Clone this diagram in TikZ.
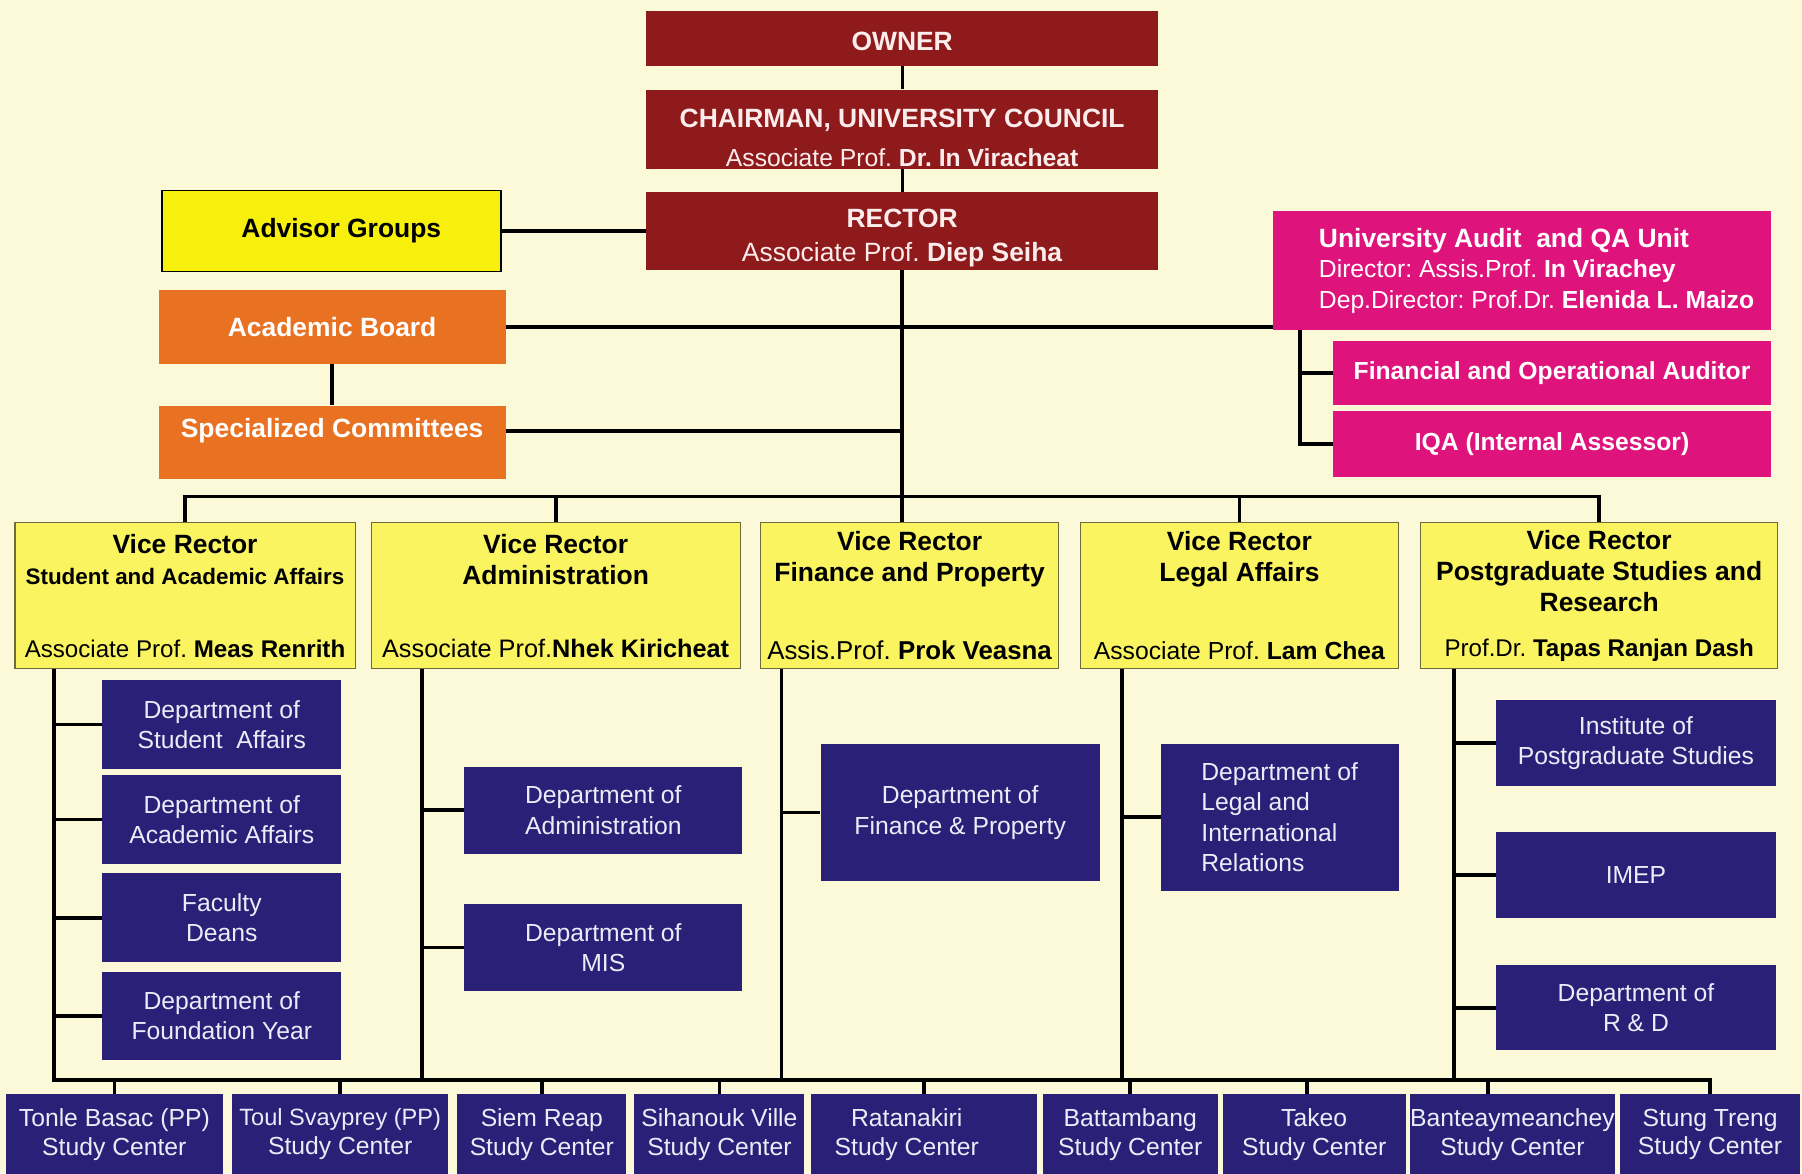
\documentclass[tikz,border=0pt]{standalone}
\usepackage{fontspec}
\setmainfont{Liberation Sans}
\usepackage{xcolor}

\definecolor{paper}{RGB}{252,249,216}
\definecolor{boardred}{RGB}{142,26,28}
\definecolor{boardtext}{RGB}{252,236,236}
\definecolor{advisoryellow}{RGB}{247,240,12}
\definecolor{viceyellow}{RGB}{249,244,96}
\definecolor{viceline}{RGB}{110,108,60}
\definecolor{boardorange}{RGB}{232,114,34}
\definecolor{auditpink}{RGB}{222,20,124}
\definecolor{deptblue}{RGB}{42,32,120}
\definecolor{depttext}{RGB}{236,236,248}

\begin{document}
\frenchspacing
\begin{tikzpicture}[x=1pt,y=-1pt,
  base/.style={inner sep=0pt,align=center},
  boardbox/.style={base,fill=boardred,text=boardtext,minimum width=446pt,font=\fontsize{23}{27}\selectfont},
  councilbox/.style={base,fill=boardorange,text=white,minimum width=302pt,minimum height=64pt,font=\bfseries\fontsize{23}{27}\selectfont},
  auditbox/.style={base,fill=auditpink,text=white,font=\fontsize{21.5}{26.5}\selectfont},
  vicebox/.style={base,fill=viceyellow,draw=viceline,line width=1pt,minimum height=127pt,text=black,font=\fontsize{23}{27}\selectfont},
  deptbox/.style={base,fill=deptblue,text=depttext,font=\fontsize{21.5}{26.5}\selectfont},
  centrebox/.style={base,fill=deptblue,text=depttext,minimum height=70pt,font=\fontsize{21.5}{25}\selectfont},
  link/.style={line width=3.2pt},
  thinlink/.style={line width=2.4pt}
]
\path[use as bounding box,clip] (0,0) rectangle (1568,1021);
\fill[paper] (0,0) rectangle (1568,1021);

\node[boardbox,minimum height=47pt] (owner) at (785,33.5) {\rule{0pt}{21pt}\textbf{OWNER}};
\node[boardbox,minimum height=69pt] (chair) at (785,112.5) {\rule{0pt}{30.5pt}\textbf{CHAIRMAN, UNIVERSITY COUNCIL}\\[7pt]{\fontsize{21.5}{27}\selectfont Associate Prof. \textbf{Dr. In Viracheat}}};
\node[boardbox,minimum height=68pt] (rector) at (785,201) {\rule{0pt}{28.5pt}\textbf{RECTOR}\\[3pt]Associate Prof. \textbf{Diep Seiha}};

\node[base,fill=advisoryellow,draw=black,line width=1.2pt,minimum width=295pt,minimum height=70pt,font=\bfseries\fontsize{23}{27}\selectfont] (advisor) at (288.5,201) {\hspace*{17pt}Advisor Groups};
\node[councilbox] (acad) at (289,284.5) {Academic Board};
\node[councilbox] (spec) at (289,385) {\raisebox{10pt}[\height][\depth]{Specialized Committees}};

\node[auditbox,align=left,minimum width=433pt,minimum height=103pt] (audit) at (1324.5,235.5) {\hspace*{25pt}{\fontsize{23}{26.5}\selectfont\textbf{University Audit\ \ and QA Unit}}\\\hspace*{25pt}Director: Assis.Prof. \textbf{In Virachey}\\\hspace*{25pt}Dep.Director: Prof.Dr. \textbf{Elenida L. Maizo}};
\node[auditbox,font=\bfseries\fontsize{21.5}{26.5}\selectfont,minimum width=381pt,minimum height=55pt] (finaud) at (1350.5,324.5) {Financial and Operational Auditor};
\node[auditbox,font=\bfseries\fontsize{21.5}{26.5}\selectfont,minimum width=381pt,minimum height=57pt] (iqa) at (1350.5,386.5) {IQA (Internal Assessor)};

\node[vicebox,minimum width=296pt] (vr1) at (161,518.5) {\textbf{Vice Rector}\\{\fontsize{19.5}{27}\selectfont\textbf{Student and Academic Affairs}}\\[37pt]{\fontsize{21}{27}\selectfont Associate Prof. \textbf{Meas Renrith}}};
\node[vicebox,minimum width=321pt] (vr2) at (483.5,518.5) {\textbf{Vice Rector}\\\textbf{Administration}\\[36pt]{\fontsize{22}{27}\selectfont Associate Prof.\textbf{Nhek Kiricheat}}};
\node[vicebox,minimum width=259pt] (vr3) at (791.5,518.5) {\textbf{Vice Rector}\\\textbf{Finance and Property}\\[41pt]{\fontsize{22.5}{27}\selectfont Assis.Prof. \textbf{Prok Veasna}}};
\node[vicebox,minimum width=277pt] (vr4) at (1078.5,518.5) {\textbf{Vice Rector}\\\textbf{Legal Affairs}\\[41pt]{\fontsize{21.5}{27}\selectfont Associate Prof. \textbf{Lam Chea}}};
\node[vicebox,minimum width=311pt] (vr5) at (1391.5,518.5) {\textbf{Vice Rector}\\\textbf{Postgraduate Studies and}\\\textbf{Research}\\[12pt]{\fontsize{21}{27}\selectfont Prof.Dr. \textbf{Tapas Ranjan Dash}}};

\node[deptbox,minimum width=208pt,minimum height=77pt] (stud) at (193,630.5) {Department of\\Student\ \ Affairs};
\node[deptbox,minimum width=208pt,minimum height=78pt] (acaff) at (193,713) {Department of\\Academic Affairs};
\node[deptbox,minimum width=208pt,minimum height=77pt] (deans) at (193,798.5) {Faculty\\Deans};
\node[deptbox,minimum width=208pt,minimum height=76pt] (found) at (193,884) {Department of\\Foundation Year};

\node[deptbox,minimum width=242pt,minimum height=76pt] (admin) at (525,705) {Department of\\Administration};
\node[deptbox,minimum width=242pt,minimum height=75pt] (mis) at (525,824.5) {Department of\\MIS};

\node[deptbox,minimum width=243pt,minimum height=120pt] (finprop) at (835.5,707) {Department of\\Finance \& Property};

\node[deptbox,align=left,minimum width=207pt,minimum height=128pt] (legal) at (1113.5,711) {Department of\\Legal and\\International\\Relations};

\node[deptbox,minimum width=243pt,minimum height=75pt] (ips) at (1423.5,646.5) {Institute of\\Postgraduate Studies};
\node[deptbox,minimum width=243pt,minimum height=75pt] (imep) at (1423.5,761.5) {IMEP};
\node[deptbox,minimum width=243pt,minimum height=74pt] (rnd) at (1423.5,877) {Department of\\R \& D};

\node[centrebox,minimum width=189pt] (tonle) at (99.5,987) {Tonle Basac (PP)\\Study Center};
\node[centrebox,minimum width=188pt] (toul) at (296,987) {{\fontsize{20.5}{25}\selectfont Toul Svayprey (PP)}\\Study Center};
\node[centrebox,minimum width=147pt] (siem) at (471.5,987) {Siem Reap\\Study Center};
\node[centrebox,minimum width=148pt] (sihan) at (626,987) {Sihanouk Ville\\Study Center};
\node[centrebox,minimum width=196pt] (ratana) at (804,987) {Ratanakiri\hspace*{30pt}\\Study Center\hspace*{30pt}};
\node[centrebox,minimum width=152pt] (battam) at (983.5,987) {Battambang\\Study Center};
\node[centrebox,minimum width=159pt] (takeo) at (1143.5,987) {Takeo\\Study Center};
\node[centrebox,minimum width=178pt] (bantey) at (1316,987) {Banteaymeanchey\\Study Center};
\node[centrebox,minimum width=156pt] (stung) at (1488,987) {Stung Treng\\Study Center};

\coordinate (ab) at (1131,0);
\coordinate (topbar) at (0,432);
\coordinate (sp1) at (47,940);
\coordinate (sp2) at (367,940);
\coordinate (sp3) at (680,940);
\coordinate (sp4) at (976,940);
\coordinate (sp5) at (1265,940);

\draw[thinlink] (owner) -- (chair);
\draw[thinlink] (chair) -- (rector);
\draw[link] (advisor) -- (rector);
\draw[link] (rector) -- (rector |- vr3.north);
\draw[link] (acad) -- (acad -| audit.west);
\draw[link] (acad) -- (spec);
\draw[link] ([yshift=10pt]spec.east) -- ([yshift=10pt]spec.east -| rector.south);

\draw[link] (audit.south -| ab) |- (iqa.west);
\draw[link] (ab |- finaud.west) -- (finaud.west);

\draw[link] (vr1.north) -- (vr1.north |- topbar) -- (vr5.north |- topbar) -- (vr5.north);
\draw[link] (vr2.north) -- (vr2.north |- topbar);
\draw[link] (vr4.north) -- (vr4.north |- topbar);

\draw[link] (vr1.south -| sp1) -- (sp1) -- (stung.north |- sp1) -- (stung.north);
\draw[link] (vr2.south -| sp2) -- (sp2);
\draw[link] (vr3.south -| sp3) -- (sp3);
\draw[link] (vr4.south -| sp4) -- (sp4);
\draw[link] (vr5.south -| sp5) -- (sp5);

\draw[link] (stud.west -| sp1) -- (stud.west);
\draw[link] (acaff.west -| sp1) -- (acaff.west);
\draw[link] (deans.west -| sp1) -- (deans.west);
\draw[link] (found.west -| sp1) -- (found.west);
\draw[link] (admin.west -| sp2) -- (admin.west);
\draw[link] (mis.west -| sp2) -- (mis.west);
\draw[link] (finprop.west -| sp3) -- (finprop.west);
\draw[link] (legal.west -| sp4) -- (legal.west);
\draw[link] (ips.west -| sp5) -- (ips.west);
\draw[link] (imep.west -| sp5) -- (imep.west);
\draw[link] (rnd.west -| sp5) -- (rnd.west);

\draw[link] (tonle.north) -- (tonle.north |- sp1);
\draw[link] (toul.north) -- (toul.north |- sp1);
\draw[link] (siem.north) -- (siem.north |- sp1);
\draw[link] (sihan.north) -- (sihan.north |- sp1);
\draw[link] (ratana.north) -- (ratana.north |- sp1);
\draw[link] (battam.north) -- (battam.north |- sp1);
\draw[link] ([xshift=-6pt]takeo.north) -- ([xshift=-6pt]takeo.north |- sp1);
\draw[link] ([xshift=-21pt]bantey.north) -- ([xshift=-21pt]bantey.north |- sp1);
\end{tikzpicture}
\end{document}
